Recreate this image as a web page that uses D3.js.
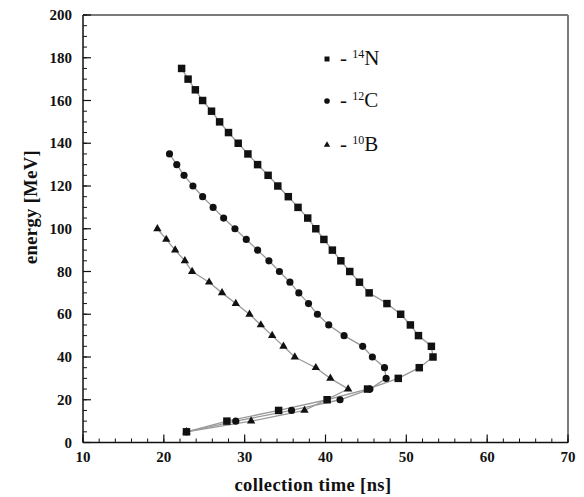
<!DOCTYPE html>
<html>
<head>
<meta charset="utf-8">
<script src="https://cdn.jsdelivr.net/npm/d3@7"></script>
<style>
  html, body { margin: 0; padding: 0; background: #fff; }
  svg { display: block; }
  text { font-family: "Liberation Serif", "DejaVu Serif", serif; fill: #111; }
</style>
</head>
<body>
<svg id="chart" width="584" height="497"></svg>
<script>
// Energy (MeV) vs collection time (ns) for three ion species
const energyN = [175,170,165,160,155,150,145,140,135,130,125,120,115,110,105,100,95,90,85,80,75,70,65,60,55,50,45,40,35,30,25,20,15,10,5];
const timeN   = [22.2,23.0,23.9,24.8,25.9,26.9,28.0,29.2,30.4,31.6,32.9,34.1,35.4,36.6,37.8,38.8,39.8,40.85,41.9,43.0,44.2,45.4,47.6,49.3,50.5,51.5,53.1,53.3,51.6,49.0,45.2,40.2,34.2,27.8,22.8];

const energyC = [135,130,125,120,115,110,105,100,95,90,85,80,75,70,65,60,55,50,45,40,35,30,25,20,15,10,5];
const timeC   = [20.7,21.6,22.5,23.6,24.8,26.1,27.4,28.8,30.2,31.6,33.0,34.3,35.6,36.7,37.9,39.0,40.4,42.3,44.6,45.8,47.3,47.5,45.5,41.8,35.8,28.9,22.8];

const energyB = [100,95,90,85,80,75,70,65,60,55,50,45,40,35,30,25,15,10,5];
const timeB   = [19.2,20.3,21.4,22.6,23.5,25.6,27.2,28.9,30.6,32.0,33.4,34.8,36.2,38.8,40.6,42.8,37.4,30.8,22.8];

const xTicks = [10,20,30,40,50,60,70];
const yTicks = [0,20,40,60,80,100,120,140,160,180,200];
const xMinor = d3.range(10, 70.01, 2);
const yMinor = d3.range(0, 200.01, 5);

const seriesNames = ["14N", "12C", "10B"];
const legendMass = ["14", "12", "10"];
const legendSymbol = ["N", "C", "B"];

const series = [
  { name: seriesNames[2], t: timeB, e: energyB, shape: d3.symbolTriangle, size: 30 },
  { name: seriesNames[1], t: timeC, e: energyC, shape: d3.symbolCircle, size: 40 },
  { name: seriesNames[0], t: timeN, e: energyN, shape: d3.symbolSquare, size: 56 }
];

const svg = d3.select("#chart");
const plotLeft = 83, plotRight = 568, plotTop = 15, plotBottom = 442.5;

const x = d3.scaleLinear().domain([10, 70]).range([plotLeft, plotRight]);
const y = d3.scaleLinear().domain([0, 200]).range([plotBottom, plotTop]);

// frame: top and right edges in grey
svg.append("line").attr("x1", plotLeft).attr("x2", plotRight).attr("y1", plotTop).attr("y2", plotTop)
  .attr("stroke", "#7a7a7a").attr("stroke-width", 2);
svg.append("line").attr("x1", plotRight).attr("x2", plotRight).attr("y1", plotTop).attr("y2", plotBottom)
  .attr("stroke", "#7a7a7a").attr("stroke-width", 2);

// bottom axis with inward ticks
const gx = svg.append("g").attr("transform", `translate(0,${plotBottom})`);
gx.append("line").attr("x1", plotLeft).attr("x2", plotRight).attr("stroke", "#111").attr("stroke-width", 1.5);
gx.selectAll("line.minor").data(xMinor).join("line").attr("class", "minor")
  .attr("x1", d => x(d)).attr("x2", d => x(d)).attr("y1", 0).attr("y2", -4)
  .attr("stroke", "#111").attr("stroke-width", 1);
gx.selectAll("line.major").data(xTicks).join("line").attr("class", "major")
  .attr("x1", d => x(d)).attr("x2", d => x(d)).attr("y1", 0).attr("y2", -8)
  .attr("stroke", "#111").attr("stroke-width", 1.2);
gx.selectAll("text").data(xTicks).join("text")
  .attr("x", d => x(d)).attr("y", 19.5)
  .attr("text-anchor", "middle").attr("font-size", 15).attr("font-weight", "bold")
  .text(d => d);

// left axis with inward ticks
const gy = svg.append("g").attr("transform", `translate(${plotLeft},0)`);
gy.append("line").attr("y1", plotTop).attr("y2", plotBottom).attr("stroke", "#111").attr("stroke-width", 1.5);
gy.selectAll("line.minor").data(yMinor).join("line").attr("class", "minor")
  .attr("y1", d => y(d)).attr("y2", d => y(d)).attr("x1", 0).attr("x2", 4)
  .attr("stroke", "#111").attr("stroke-width", 1);
gy.selectAll("line.major").data(yTicks).join("line").attr("class", "major")
  .attr("y1", d => y(d)).attr("y2", d => y(d)).attr("x1", 0).attr("x2", 8)
  .attr("stroke", "#111").attr("stroke-width", 1.2);
gy.selectAll("text").data(yTicks).join("text")
  .attr("x", -11).attr("y", d => y(d) + 5)
  .attr("text-anchor", "end").attr("font-size", 15).attr("font-weight", "bold")
  .text(d => d);

// axis titles
svg.append("text").attr("x", 313).attr("y", 491)
  .attr("text-anchor", "middle").attr("font-size", 18.5).attr("font-weight", "bold")
  .attr("letter-spacing", 0.4)
  .text("collection time [ns]");
svg.append("text").attr("transform", "translate(37,207) rotate(-90)")
  .attr("text-anchor", "middle").attr("font-size", 18.5).attr("font-weight", "bold")
  .attr("letter-spacing", 0.4)
  .text("energy [MeV]");

// connecting lines
const line = d3.line().x(d => x(d[0])).y(d => y(d[1]));
series.forEach(s => {
  const pts = s.t.map((t, i) => [t, s.e[i]]);
  svg.append("path").datum(pts).attr("d", line)
    .attr("fill", "none").attr("stroke", "#9a9a9a").attr("stroke-width", 1.3);
});

// markers
series.forEach(s => {
  const sym = d3.symbol().type(s.shape).size(s.size);
  svg.append("g").selectAll("path").data(s.t.map((t, i) => [t, s.e[i]])).join("path")
    .attr("transform", d => `translate(${x(d[0])},${y(d[1])})`)
    .attr("d", sym).attr("fill", "#111");
});

// legend
const legendShapes = [d3.symbolSquare, d3.symbolCircle, d3.symbolTriangle];
const legendSizes = [25, 25, 18];
const legendY = [59, 101, 145];
legendShapes.forEach((shape, i) => {
  svg.append("path").attr("transform", `translate(327,${legendY[i]})`)
    .attr("d", d3.symbol().type(shape).size(legendSizes[i])()).attr("fill", "#111");
  const t = svg.append("text").attr("x", 340).attr("y", legendY[i] + 6).attr("font-size", 21);
  t.append("tspan").text("- ");
  t.append("tspan").attr("font-size", 12).attr("dy", -7).text(legendMass[i]);
  t.append("tspan").attr("dy", 7).text(legendSymbol[i]);
});
</script>
</body>
</html>
